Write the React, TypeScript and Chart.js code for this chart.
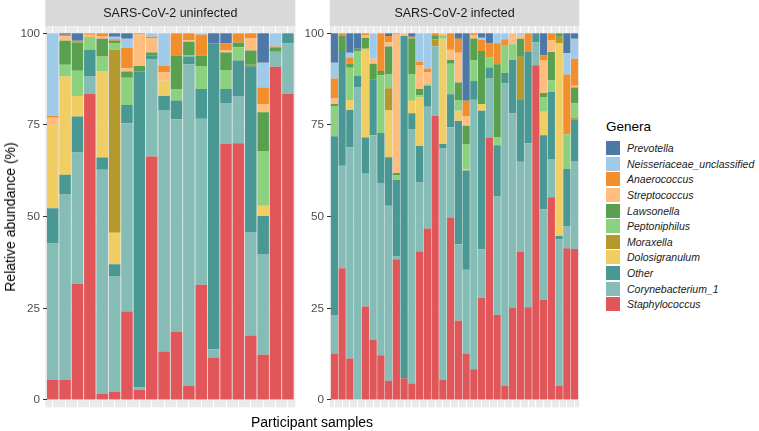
import React, { useEffect, useRef } from "react";
import { Chart, registerables } from "chart.js";

Chart.register(...registerables);

// Stack order: bottom -> top
const genera = [
  "Staphylococcus",
  "Corynebacterium_1",
  "Other",
  "Dolosigranulum",
  "Moraxella",
  "Peptoniphilus",
  "Lawsonella",
  "Streptococcus",
  "Anaerococcus",
  "Neisseriaceae_unclassified",
  "Prevotella",
];
const generaColors = [
  "#E15759",
  "#86BCB6",
  "#499894",
  "#F1CE63",
  "#B6992D",
  "#8CD17D",
  "#59A14F",
  "#FFBE7D",
  "#F28E2B",
  "#A0CBE8",
  "#4E79A7",
];
const yTicks = [0, 25, 50, 75, 100];

const uninfectedSamples = ["U01","U02","U03","U04","U05","U06","U07","U08","U09","U10","U11","U12","U13","U14","U15","U16","U17","U18","U19","U20"];
const infectedSamples = ["I01","I02","I03","I04","I05","I06","I07","I08","I09","I10","I11","I12","I13","I14","I15","I16","I17","I18","I19","I20","I21","I22","I23","I24","I25","I26","I27","I28","I29","I30","I31","I32"];

// SARS-CoV-2 uninfected (20 samples)
const uStaphylococcus = [5.5, 5.5, 31.6, 83.5, 1.6, 2.2, 24.1, 2.7, 66.4, 13.2, 18.6, 3.8, 31.4, 11.6, 69.8, 70.0, 17.6, 12.3, 90.9, 83.5];
const uCorynebacterium = [37.2, 50.7, 35.9, 4.7, 61.2, 31.6, 51.4, 0.7, 26.6, 65.9, 58.0, 87.8, 45.3, 2.2, 11.2, 12.8, 28.2, 27.5, 4.1, 13.8];
const uOther = [9.6, 5.2, 9.8, 7.3, 3.3, 3.2, 5.0, 86.2, 0.9, 3.8, 5.1, 2.1, 8.1, 83.5, 3.8, 9.8, 45.2, 10.4, 0, 2.7];
const uDolosigranulum = [22.7, 26.8, 5.6, 0, 23.5, 8.6, 0, 0, 0, 4.2, 0, 0, 0, 0, 0, 0, 0, 2.8, 0, 0];
const uMoraxella = [0, 0, 0, 0, 0, 49.9, 0, 0, 0, 0, 0, 0, 0, 0, 0, 0, 0.4, 0, 0, 0];
const uPeptoniphilus = [0, 3.2, 6.9, 3.5, 4.1, 1.7, 7.4, 0, 0, 0, 3.1, 0.4, 6.3, 0, 5.2, 3.6, 0, 14.9, 0, 0];
const uLawsonella = [0, 6.6, 7.7, 0, 4.8, 0.8, 1.7, 1.5, 0.9, 0, 9.1, 3.6, 2.8, 0, 4.8, 1.3, 3.9, 10.6, 1.0, 0];
const uStreptococcus = [2.0, 1.2, 0, 0.6, 0.8, 0, 0.9, 8.6, 3.8, 2.2, 0, 0.5, 0, 0, 0.5, 0, 3.4, 2.2, 0, 0];
const uAnaerococcus = [0.5, 0.4, 0.5, 0.4, 0.7, 0.4, 5.6, 0.3, 0.5, 1.8, 6.1, 1.8, 5.7, 0, 2.0, 2.5, 1.3, 4.5, 0.4, 0];
const uNeisseriaceae = [22.5, 0, 0, 0, 0, 0.7, 2.4, 0, 0.9, 8.9, 0, 0, 0.4, 0, 0, 0, 0, 6.8, 3.6, 0];
const uPrevotella = [0, 0.4, 2.0, 0, 0, 0.9, 1.5, 0, 0, 0, 0, 0, 0, 2.7, 2.7, 0, 0, 8.0, 0, 0];

// SARS-CoV-2 infected (32 samples)
const iStaphylococcus = [12.7, 35.9, 11.3, 0, 25.5, 16.4, 12.2, 5.2, 38.4, 5.9, 4.5, 40.5, 46.8, 77.5, 5.5, 49.8, 21.6, 12.7, 8.4, 27.9, 71.6, 23.2, 3.8, 25.2, 40.5, 25.3, 91.3, 27.3, 55.3, 3.8, 41.4, 41.2];
const iCorynebacterium = [10.5, 28.0, 57.6, 85.2, 36.4, 55.8, 47.0, 47.8, 0.9, 0, 69.4, 18.8, 33.2, 19.0, 63.1, 24.6, 20.9, 22.8, 73.5, 13.2, 16.1, 32.4, 82.6, 53.0, 24.5, 44.7, 6.3, 24.7, 10.4, 40.0, 5.9, 24.0];
const iOther = [48.7, 31.3, 10.2, 3.2, 9.7, 15.3, 13.6, 13.2, 20.7, 93.4, 4.3, 10.0, 5.7, 0, 1.2, 9.0, 33.6, 27.1, 5.1, 37.8, 3.0, 13.9, 2.8, 14.5, 16.8, 24.9, 2.4, 20.2, 18.3, 0.9, 15.7, 11.2];
const iDolosigranulum = [0, 0, 2.7, 0, 24.2, 0, 0, 12.9, 0, 0, 3.4, 13.2, 0, 0, 28.7, 0, 2.8, 0.4, 0, 1.8, 0, 0, 0, 0, 0, 0, 0, 6.4, 0, 52.6, 0, 0];
const iMoraxella = [0, 0, 0, 0, 0, 0, 0, 5.9, 0, 0, 0, 0, 0, 1.8, 0, 0, 0, 0, 0, 0, 0, 0, 0, 0, 11.8, 0, 0, 0, 0, 1.8, 0, 0.6];
const iPeptoniphilus = [8.3, 0, 8.8, 6.8, 0, 0, 15.8, 3.8, 1.2, 0, 7.2, 0.6, 0.4, 0, 1.0, 8.3, 2.9, 6.8, 5.7, 0, 2.7, 2.1, 7.4, 4.3, 0, 0, 0, 3.9, 3.2, 0, 9.5, 3.9];
const iLawsonella = [0.5, 4.1, 1.2, 0.6, 3.0, 4.2, 1.1, 7.6, 0.7, 0, 9.8, 1.7, 0, 1.2, 0, 1.0, 4.8, 5.0, 5.9, 14.5, 0, 20.0, 0, 0, 4.9, 0, 0, 1.2, 7.7, 0.9, 0, 4.3];
const iStreptococcus = [1.5, 0, 0, 0, 0.6, 1.4, 0, 1.2, 37.8, 0.7, 0, 6.5, 3.2, 0, 0.5, 2.8, 8.1, 2.5, 0.8, 0, 0, 0, 0, 3.0, 1.0, 0, 0, 9.0, 3.3, 0, 0, 0.5];
const iAnaerococcus = [5.5, 0.7, 1.6, 0, 0.6, 0, 10.3, 1.7, 0.3, 0, 0.5, 0.9, 1.1, 0.5, 0, 4.5, 3.8, 4.3, 0.6, 3.0, 3.9, 5.7, 1.8, 0, 0, 5.1, 0, 1.3, 1.8, 0, 16.3, 7.4];
const iNeisseriaceae = [4.3, 0, 1.3, 0, 0, 6.9, 0, 0, 0, 0, 0, 7.8, 9.6, 0, 0, 0, 0, 0, 0, 0.6, 0, 2.7, 1.6, 0, 0.5, 0, 0, 0, 0, 0, 5.8, 5.4];
const iPrevotella = [8.0, 0, 5.3, 4.2, 0, 0, 0, 0.7, 0, 0, 0.9, 0, 0, 0, 0, 0, 1.5, 18.4, 0, 1.2, 2.7, 0, 0, 0, 0, 0, 0, 6.0, 0, 0, 5.4, 1.5];

const uninfectedSeries = [uStaphylococcus, uCorynebacterium, uOther, uDolosigranulum, uMoraxella, uPeptoniphilus, uLawsonella, uStreptococcus, uAnaerococcus, uNeisseriaceae, uPrevotella];
const infectedSeries = [iStaphylococcus, iCorynebacterium, iOther, iDolosigranulum, iMoraxella, iPeptoniphilus, iLawsonella, iStreptococcus, iAnaerococcus, iNeisseriaceae, iPrevotella];

const FONT = '"Liberation Sans", Arial, Helvetica, sans-serif';

const panelPlugin = {
  id: "panel",
  beforeDraw(chart: any, _args: any, opts: any) {
    const { ctx, chartArea: a } = chart;
    const n = chart.data.labels.length;
    const unit = (a.right - a.left) / n;
    const l = a.left - unit * 0.1;
    const r = a.right + unit * 0.1;
    ctx.save();
    ctx.fillStyle = "#EBEBEB";
    ctx.fillRect(l, a.top, r - l, a.bottom - a.top);
    ctx.fillStyle = "#D9D9D9";
    ctx.fillRect(l, 0, r - l, a.top);
    ctx.fillStyle = "#1A1A1A";
    ctx.font = `12.5px ${FONT}`;
    ctx.textAlign = "center";
    ctx.textBaseline = "middle";
    ctx.fillText(opts.strip, (l + r) / 2, a.top / 2 + 0.5);
    ctx.restore();
  },
};

type FacetProps = {
  labels: string[];
  series: number[][];
  strip: string;
  left: number;
  width: number;
  axisWidth: number;
  padRight: number;
};

function Facet({ labels, series, strip, left, width, axisWidth, padRight }: FacetProps) {
  const ref = useRef<HTMLCanvasElement>(null);
  useEffect(() => {
    if (!ref.current) return;
    const chart = new Chart(ref.current, {
      type: "bar",
      data: {
        labels,
        datasets: genera.map((g, i) => ({
          label: g,
          data: series[i],
          backgroundColor: generaColors[i],
          borderWidth: 0,
          barPercentage: 0.93,
          categoryPercentage: 1,
        })),
      },
      options: {
        responsive: false,
        maintainAspectRatio: false,
        animation: false,
        layout: { padding: { top: 26, bottom: 23.7, left: 0, right: padRight } },
        plugins: {
          legend: { display: false },
          tooltip: { enabled: false },
          // @ts-ignore
          panel: { strip },
        },
        scales: {
          x: {
            stacked: true,
            grid: { color: "#FFFFFF", lineWidth: 1, offset: false, drawTicks: false },
            border: { display: false },
            ticks: { display: false },
            afterFit: (s: any) => {
              s.height = 0;
            },
          },
          y: {
            stacked: true,
            min: -2,
            max: 102,
            afterBuildTicks: (s: any) => {
              s.ticks = yTicks.map((v) => ({ value: v }));
            },
            afterFit: (s: any) => {
              s.width = axisWidth;
            },
            grid: { color: "#FFFFFF", lineWidth: 1, tickColor: "#333333", tickLength: 3.5 },
            border: { display: false },
            ticks: {
              color: "#4D4D4D",
              font: { family: FONT, size: 11.7 },
              padding: 3,
            },
          },
        },
      },
      plugins: [panelPlugin],
    } as any);
    return () => chart.destroy();
  }, []);
  return (
    <canvas
      ref={ref}
      width={width}
      height={431}
      style={{ position: "absolute", left, top: 0, width, height: 431 }}
    />
  );
}

export default function App() {
  const legendItems = genera.map((g, i) => ({ name: g, color: generaColors[i] })).reverse();
  return (
    <div
      style={{
        position: "fixed",
        left: 0,
        top: 0,
        width: 759,
        height: 431,
        background: "#FFFFFF",
        overflow: "hidden",
        fontFamily: FONT,
      }}
    >
      <Facet
        labels={uninfectedSamples}
        series={uninfectedSeries}
        strip="SARS-CoV-2 uninfected"
        left={0}
        width={300}
        axisWidth={46.5}
        padRight={5.9}
      />
      <Facet
        labels={infectedSamples}
        series={infectedSeries}
        strip="SARS-CoV-2 infected"
        left={300}
        width={300}
        axisWidth={30.5}
        padRight={21.5}
      />
      <div
        style={{
          position: "absolute",
          left: 10,
          top: 217,
          transform: "translate(-50%, -50%) rotate(-90deg)",
          whiteSpace: "nowrap",
          fontSize: 14,
          color: "#000000",
        }}
      >
        Relative abundance (%)
      </div>
      <div
        style={{
          position: "absolute",
          left: 312,
          top: 422,
          transform: "translate(-50%, -50%)",
          whiteSpace: "nowrap",
          fontSize: 14,
          color: "#000000",
        }}
      >
        Participant samples
      </div>
      <div style={{ position: "absolute", left: 606, top: 119, fontSize: 13.5, lineHeight: "16px", color: "#000000" }}>
        Genera
      </div>
      <div style={{ position: "absolute", left: 606, top: 140.5 }}>
        {legendItems.map((it) => (
          <div key={it.name} style={{ display: "flex", alignItems: "center", height: 15.6 }}>
            <span style={{ display: "inline-block", width: 14, height: 14, background: it.color }} />
            <span
              style={{
                marginLeft: 7,
                fontStyle: "italic",
                fontSize: 10.5,
                color: "#1A1A1A",
                whiteSpace: "nowrap",
              }}
            >
              {it.name}
            </span>
          </div>
        ))}
      </div>
    </div>
  );
}
